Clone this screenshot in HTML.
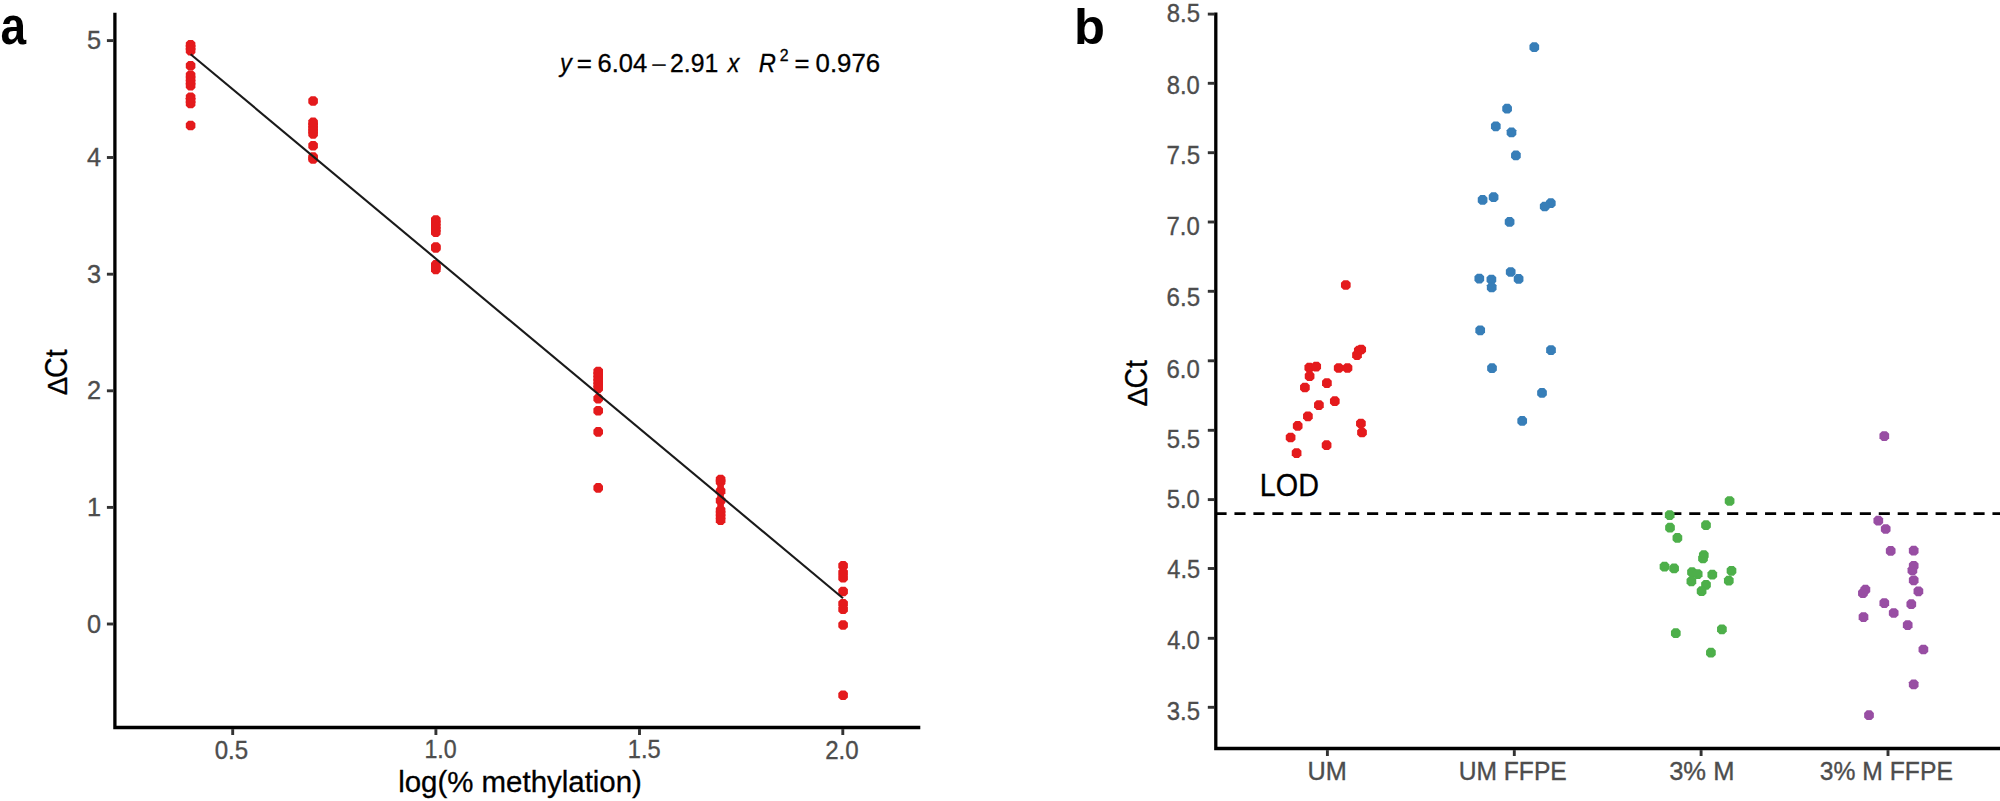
<!DOCTYPE html>
<html lang="en"><head><meta charset="utf-8"><title>Figure: ΔCt calibration and LOD</title>
<style>
html,body{margin:0;padding:0;background:#fff;}
body{width:2000px;height:801px;overflow:hidden;}
svg{display:block;}
text{font-family:"Liberation Sans",Arial,Helvetica,sans-serif;}
.tk{fill:#4D4D4D;stroke:#4D4D4D;stroke-width:0.35px;}
.ti{fill:#000;stroke:#000;stroke-width:0.3px;}
.eq{fill:#000;stroke:#000;stroke-width:0.3px;}
.pl{font-weight:bold;fill:#000;}
.mn{fill:#222;}
</style></head>
<body>
<svg width="2000" height="801" viewBox="0 0 2000 801">
<rect width="2000" height="801" fill="#fff"/>
<g id="panel-a">
<g fill="#E41A1C">
<path d="M188.39 39.90h4.42l2.59 2.59v4.42l-2.59 2.59h-4.42l-2.59 -2.59v-4.42z"/>
<path d="M188.39 42.80h4.42l2.59 2.59v4.42l-2.59 2.59h-4.42l-2.59 -2.59v-4.42z"/>
<path d="M188.39 45.80h4.42l2.59 2.59v4.42l-2.59 2.59h-4.42l-2.59 -2.59v-4.42z"/>
<path d="M188.39 60.90h4.42l2.59 2.59v4.42l-2.59 2.59h-4.42l-2.59 -2.59v-4.42z"/>
<path d="M188.39 70.50h4.42l2.59 2.59v4.42l-2.59 2.59h-4.42l-2.59 -2.59v-4.42z"/>
<path d="M188.39 73.90h4.42l2.59 2.59v4.42l-2.59 2.59h-4.42l-2.59 -2.59v-4.42z"/>
<path d="M188.39 77.40h4.42l2.59 2.59v4.42l-2.59 2.59h-4.42l-2.59 -2.59v-4.42z"/>
<path d="M188.39 80.80h4.42l2.59 2.59v4.42l-2.59 2.59h-4.42l-2.59 -2.59v-4.42z"/>
<path d="M188.39 92.50h4.42l2.59 2.59v4.42l-2.59 2.59h-4.42l-2.59 -2.59v-4.42z"/>
<path d="M188.39 95.60h4.42l2.59 2.59v4.42l-2.59 2.59h-4.42l-2.59 -2.59v-4.42z"/>
<path d="M188.39 98.70h4.42l2.59 2.59v4.42l-2.59 2.59h-4.42l-2.59 -2.59v-4.42z"/>
<path d="M188.39 120.70h4.42l2.59 2.59v4.42l-2.59 2.59h-4.42l-2.59 -2.59v-4.42z"/>
<path d="M310.89 96.20h4.42l2.59 2.59v4.42l-2.59 2.59h-4.42l-2.59 -2.59v-4.42z"/>
<path d="M310.89 117.60h4.42l2.59 2.59v4.42l-2.59 2.59h-4.42l-2.59 -2.59v-4.42z"/>
<path d="M310.89 120.50h4.42l2.59 2.59v4.42l-2.59 2.59h-4.42l-2.59 -2.59v-4.42z"/>
<path d="M310.89 123.40h4.42l2.59 2.59v4.42l-2.59 2.59h-4.42l-2.59 -2.59v-4.42z"/>
<path d="M310.89 126.20h4.42l2.59 2.59v4.42l-2.59 2.59h-4.42l-2.59 -2.59v-4.42z"/>
<path d="M310.89 129.10h4.42l2.59 2.59v4.42l-2.59 2.59h-4.42l-2.59 -2.59v-4.42z"/>
<path d="M310.89 140.90h4.42l2.59 2.59v4.42l-2.59 2.59h-4.42l-2.59 -2.59v-4.42z"/>
<path d="M310.89 152.30h4.42l2.59 2.59v4.42l-2.59 2.59h-4.42l-2.59 -2.59v-4.42z"/>
<path d="M310.89 154.20h4.42l2.59 2.59v4.42l-2.59 2.59h-4.42l-2.59 -2.59v-4.42z"/>
<path d="M433.59 215.20h4.42l2.59 2.59v4.42l-2.59 2.59h-4.42l-2.59 -2.59v-4.42z"/>
<path d="M433.59 218.20h4.42l2.59 2.59v4.42l-2.59 2.59h-4.42l-2.59 -2.59v-4.42z"/>
<path d="M433.59 221.40h4.42l2.59 2.59v4.42l-2.59 2.59h-4.42l-2.59 -2.59v-4.42z"/>
<path d="M433.59 224.50h4.42l2.59 2.59v4.42l-2.59 2.59h-4.42l-2.59 -2.59v-4.42z"/>
<path d="M433.59 227.50h4.42l2.59 2.59v4.42l-2.59 2.59h-4.42l-2.59 -2.59v-4.42z"/>
<path d="M433.59 242.20h4.42l2.59 2.59v4.42l-2.59 2.59h-4.42l-2.59 -2.59v-4.42z"/>
<path d="M433.59 243.20h4.42l2.59 2.59v4.42l-2.59 2.59h-4.42l-2.59 -2.59v-4.42z"/>
<path d="M433.59 260.10h4.42l2.59 2.59v4.42l-2.59 2.59h-4.42l-2.59 -2.59v-4.42z"/>
<path d="M433.59 262.40h4.42l2.59 2.59v4.42l-2.59 2.59h-4.42l-2.59 -2.59v-4.42z"/>
<path d="M433.59 264.60h4.42l2.59 2.59v4.42l-2.59 2.59h-4.42l-2.59 -2.59v-4.42z"/>
<path d="M595.99 366.70h4.42l2.59 2.59v4.42l-2.59 2.59h-4.42l-2.59 -2.59v-4.42z"/>
<path d="M595.99 370.00h4.42l2.59 2.59v4.42l-2.59 2.59h-4.42l-2.59 -2.59v-4.42z"/>
<path d="M595.99 373.40h4.42l2.59 2.59v4.42l-2.59 2.59h-4.42l-2.59 -2.59v-4.42z"/>
<path d="M595.99 376.70h4.42l2.59 2.59v4.42l-2.59 2.59h-4.42l-2.59 -2.59v-4.42z"/>
<path d="M595.99 380.10h4.42l2.59 2.59v4.42l-2.59 2.59h-4.42l-2.59 -2.59v-4.42z"/>
<path d="M595.99 383.40h4.42l2.59 2.59v4.42l-2.59 2.59h-4.42l-2.59 -2.59v-4.42z"/>
<path d="M595.99 393.80h4.42l2.59 2.59v4.42l-2.59 2.59h-4.42l-2.59 -2.59v-4.42z"/>
<path d="M595.99 405.90h4.42l2.59 2.59v4.42l-2.59 2.59h-4.42l-2.59 -2.59v-4.42z"/>
<path d="M595.99 427.10h4.42l2.59 2.59v4.42l-2.59 2.59h-4.42l-2.59 -2.59v-4.42z"/>
<path d="M595.99 483.10h4.42l2.59 2.59v4.42l-2.59 2.59h-4.42l-2.59 -2.59v-4.42z"/>
<path d="M718.39 474.70h4.42l2.59 2.59v4.42l-2.59 2.59h-4.42l-2.59 -2.59v-4.42z"/>
<path d="M718.39 477.00h4.42l2.59 2.59v4.42l-2.59 2.59h-4.42l-2.59 -2.59v-4.42z"/>
<path d="M718.39 486.30h4.42l2.59 2.59v4.42l-2.59 2.59h-4.42l-2.59 -2.59v-4.42z"/>
<path d="M718.39 495.80h4.42l2.59 2.59v4.42l-2.59 2.59h-4.42l-2.59 -2.59v-4.42z"/>
<path d="M718.39 505.40h4.42l2.59 2.59v4.42l-2.59 2.59h-4.42l-2.59 -2.59v-4.42z"/>
<path d="M718.39 508.70h4.42l2.59 2.59v4.42l-2.59 2.59h-4.42l-2.59 -2.59v-4.42z"/>
<path d="M718.39 512.00h4.42l2.59 2.59v4.42l-2.59 2.59h-4.42l-2.59 -2.59v-4.42z"/>
<path d="M718.39 515.30h4.42l2.59 2.59v4.42l-2.59 2.59h-4.42l-2.59 -2.59v-4.42z"/>
<path d="M840.89 560.90h4.42l2.59 2.59v4.42l-2.59 2.59h-4.42l-2.59 -2.59v-4.42z"/>
<path d="M840.89 567.90h4.42l2.59 2.59v4.42l-2.59 2.59h-4.42l-2.59 -2.59v-4.42z"/>
<path d="M840.89 572.90h4.42l2.59 2.59v4.42l-2.59 2.59h-4.42l-2.59 -2.59v-4.42z"/>
<path d="M840.89 586.70h4.42l2.59 2.59v4.42l-2.59 2.59h-4.42l-2.59 -2.59v-4.42z"/>
<path d="M840.89 599.00h4.42l2.59 2.59v4.42l-2.59 2.59h-4.42l-2.59 -2.59v-4.42z"/>
<path d="M840.89 604.40h4.42l2.59 2.59v4.42l-2.59 2.59h-4.42l-2.59 -2.59v-4.42z"/>
<path d="M840.89 620.20h4.42l2.59 2.59v4.42l-2.59 2.59h-4.42l-2.59 -2.59v-4.42z"/>
<path d="M840.89 690.40h4.42l2.59 2.59v4.42l-2.59 2.59h-4.42l-2.59 -2.59v-4.42z"/>
<circle cx="720.6" cy="486.4" r="3.3"/>
<circle cx="720.6" cy="495.9" r="3.3"/>
<circle cx="720.6" cy="505.4" r="3.3"/>
</g>
<line x1="190.6" y1="54.2" x2="843" y2="598.2" stroke="#1a1a1a" stroke-width="2.1"/>
<path d="M114.9 12.8V727.5H920.3" fill="none" stroke="#000" stroke-width="3.3" stroke-linejoin="miter"/>
<line x1="106.9" x2="113.30000000000001" y1="40.6" y2="40.6" stroke="#333333" stroke-width="2.9"/>
<text x="101.2" y="49.2" text-anchor="end" font-size="25.3" class="tk">5</text>
<line x1="106.9" x2="113.30000000000001" y1="157.5" y2="157.5" stroke="#333333" stroke-width="2.9"/>
<text x="101.2" y="166.1" text-anchor="end" font-size="25.3" class="tk">4</text>
<line x1="106.9" x2="113.30000000000001" y1="274.2" y2="274.2" stroke="#333333" stroke-width="2.9"/>
<text x="101.2" y="282.8" text-anchor="end" font-size="25.3" class="tk">3</text>
<line x1="106.9" x2="113.30000000000001" y1="390.8" y2="390.8" stroke="#333333" stroke-width="2.9"/>
<text x="101.2" y="399.4" text-anchor="end" font-size="25.3" class="tk">2</text>
<line x1="106.9" x2="113.30000000000001" y1="507.4" y2="507.4" stroke="#333333" stroke-width="2.9"/>
<text x="101.2" y="516.0" text-anchor="end" font-size="25.3" class="tk">1</text>
<line x1="106.9" x2="113.30000000000001" y1="624.0" y2="624.0" stroke="#333333" stroke-width="2.9"/>
<text x="101.2" y="632.6" text-anchor="end" font-size="25.3" class="tk">0</text>
<line x1="232.7" x2="232.7" y1="729.1" y2="735" stroke="#333333" stroke-width="2.9"/>
<line x1="435.9" x2="435.9" y1="729.1" y2="735" stroke="#333333" stroke-width="2.9"/>
<line x1="639.5" x2="639.5" y1="729.1" y2="735" stroke="#333333" stroke-width="2.9"/>
<line x1="842.8" x2="842.8" y1="729.1" y2="735" stroke="#333333" stroke-width="2.9"/>
</g>
<g id="panel-b">
<line x1="1215.8" x2="2000" y1="513.6" y2="513.6" stroke="#000" stroke-width="2.8" stroke-dasharray="11.1 7.85" stroke-dashoffset="0.3"/>
<g fill="#E41A1C">
<path d="M1343.57 280.15h4.46l2.62 2.62v4.46l-2.62 2.62h-4.46l-2.62 -2.62v-4.46z"/>
<path d="M1358.97 344.65h4.46l2.62 2.62v4.46l-2.62 2.62h-4.46l-2.62 -2.62v-4.46z"/>
<path d="M1356.57 345.75h4.46l2.62 2.62v4.46l-2.62 2.62h-4.46l-2.62 -2.62v-4.46z"/>
<path d="M1354.77 350.25h4.46l2.62 2.62v4.46l-2.62 2.62h-4.46l-2.62 -2.62v-4.46z"/>
<path d="M1307.07 362.85h4.46l2.62 2.62v4.46l-2.62 2.62h-4.46l-2.62 -2.62v-4.46z"/>
<path d="M1313.97 361.75h4.46l2.62 2.62v4.46l-2.62 2.62h-4.46l-2.62 -2.62v-4.46z"/>
<path d="M1336.47 363.15h4.46l2.62 2.62v4.46l-2.62 2.62h-4.46l-2.62 -2.62v-4.46z"/>
<path d="M1345.27 363.15h4.46l2.62 2.62v4.46l-2.62 2.62h-4.46l-2.62 -2.62v-4.46z"/>
<path d="M1307.37 371.35h4.46l2.62 2.62v4.46l-2.62 2.62h-4.46l-2.62 -2.62v-4.46z"/>
<path d="M1324.67 378.25h4.46l2.62 2.62v4.46l-2.62 2.62h-4.46l-2.62 -2.62v-4.46z"/>
<path d="M1302.67 382.65h4.46l2.62 2.62v4.46l-2.62 2.62h-4.46l-2.62 -2.62v-4.46z"/>
<path d="M1332.57 396.35h4.46l2.62 2.62v4.46l-2.62 2.62h-4.46l-2.62 -2.62v-4.46z"/>
<path d="M1316.67 400.25h4.46l2.62 2.62v4.46l-2.62 2.62h-4.46l-2.62 -2.62v-4.46z"/>
<path d="M1305.67 411.45h4.46l2.62 2.62v4.46l-2.62 2.62h-4.46l-2.62 -2.62v-4.46z"/>
<path d="M1295.47 421.05h4.46l2.62 2.62v4.46l-2.62 2.62h-4.46l-2.62 -2.62v-4.46z"/>
<path d="M1288.37 432.65h4.46l2.62 2.62v4.46l-2.62 2.62h-4.46l-2.62 -2.62v-4.46z"/>
<path d="M1358.67 418.65h4.46l2.62 2.62v4.46l-2.62 2.62h-4.46l-2.62 -2.62v-4.46z"/>
<path d="M1359.77 427.65h4.46l2.62 2.62v4.46l-2.62 2.62h-4.46l-2.62 -2.62v-4.46z"/>
<path d="M1324.37 440.35h4.46l2.62 2.62v4.46l-2.62 2.62h-4.46l-2.62 -2.62v-4.46z"/>
<path d="M1294.37 448.25h4.46l2.62 2.62v4.46l-2.62 2.62h-4.46l-2.62 -2.62v-4.46z"/>
</g>
<g fill="#377EB8">
<path d="M1532.07 42.35h4.46l2.62 2.62v4.46l-2.62 2.62h-4.46l-2.62 -2.62v-4.46z"/>
<path d="M1504.87 103.85h4.46l2.62 2.62v4.46l-2.62 2.62h-4.46l-2.62 -2.62v-4.46z"/>
<path d="M1493.57 121.45h4.46l2.62 2.62v4.46l-2.62 2.62h-4.46l-2.62 -2.62v-4.46z"/>
<path d="M1509.27 127.55h4.46l2.62 2.62v4.46l-2.62 2.62h-4.46l-2.62 -2.62v-4.46z"/>
<path d="M1513.67 150.55h4.46l2.62 2.62v4.46l-2.62 2.62h-4.46l-2.62 -2.62v-4.46z"/>
<path d="M1480.37 195.05h4.46l2.62 2.62v4.46l-2.62 2.62h-4.46l-2.62 -2.62v-4.46z"/>
<path d="M1491.37 192.35h4.46l2.62 2.62v4.46l-2.62 2.62h-4.46l-2.62 -2.62v-4.46z"/>
<path d="M1548.57 198.35h4.46l2.62 2.62v4.46l-2.62 2.62h-4.46l-2.62 -2.62v-4.46z"/>
<path d="M1542.47 201.65h4.46l2.62 2.62v4.46l-2.62 2.62h-4.46l-2.62 -2.62v-4.46z"/>
<path d="M1507.37 217.05h4.46l2.62 2.62v4.46l-2.62 2.62h-4.46l-2.62 -2.62v-4.46z"/>
<path d="M1508.47 267.15h4.46l2.62 2.62v4.46l-2.62 2.62h-4.46l-2.62 -2.62v-4.46z"/>
<path d="M1516.37 274.05h4.46l2.62 2.62v4.46l-2.62 2.62h-4.46l-2.62 -2.62v-4.46z"/>
<path d="M1477.07 273.75h4.46l2.62 2.62v4.46l-2.62 2.62h-4.46l-2.62 -2.62v-4.46z"/>
<path d="M1489.17 274.65h4.46l2.62 2.62v4.46l-2.62 2.62h-4.46l-2.62 -2.62v-4.46z"/>
<path d="M1489.47 282.55h4.46l2.62 2.62v4.46l-2.62 2.62h-4.46l-2.62 -2.62v-4.46z"/>
<path d="M1477.97 325.45h4.46l2.62 2.62v4.46l-2.62 2.62h-4.46l-2.62 -2.62v-4.46z"/>
<path d="M1548.77 345.25h4.46l2.62 2.62v4.46l-2.62 2.62h-4.46l-2.62 -2.62v-4.46z"/>
<path d="M1489.77 363.35h4.46l2.62 2.62v4.46l-2.62 2.62h-4.46l-2.62 -2.62v-4.46z"/>
<path d="M1539.77 388.05h4.46l2.62 2.62v4.46l-2.62 2.62h-4.46l-2.62 -2.62v-4.46z"/>
<path d="M1519.97 416.05h4.46l2.62 2.62v4.46l-2.62 2.62h-4.46l-2.62 -2.62v-4.46z"/>
</g>
<g fill="#4DAF4A">
<path d="M1727.37 496.15h4.46l2.62 2.62v4.46l-2.62 2.62h-4.46l-2.62 -2.62v-4.46z"/>
<path d="M1667.47 510.25h4.46l2.62 2.62v4.46l-2.62 2.62h-4.46l-2.62 -2.62v-4.46z"/>
<path d="M1703.77 520.35h4.46l2.62 2.62v4.46l-2.62 2.62h-4.46l-2.62 -2.62v-4.46z"/>
<path d="M1667.77 522.85h4.46l2.62 2.62v4.46l-2.62 2.62h-4.46l-2.62 -2.62v-4.46z"/>
<path d="M1675.17 533.05h4.46l2.62 2.62v4.46l-2.62 2.62h-4.46l-2.62 -2.62v-4.46z"/>
<path d="M1701.57 550.35h4.46l2.62 2.62v4.46l-2.62 2.62h-4.46l-2.62 -2.62v-4.46z"/>
<path d="M1700.77 553.65h4.46l2.62 2.62v4.46l-2.62 2.62h-4.46l-2.62 -2.62v-4.46z"/>
<path d="M1662.27 561.85h4.46l2.62 2.62v4.46l-2.62 2.62h-4.46l-2.62 -2.62v-4.46z"/>
<path d="M1671.87 563.55h4.46l2.62 2.62v4.46l-2.62 2.62h-4.46l-2.62 -2.62v-4.46z"/>
<path d="M1689.77 567.35h4.46l2.62 2.62v4.46l-2.62 2.62h-4.46l-2.62 -2.62v-4.46z"/>
<path d="M1695.47 569.25h4.46l2.62 2.62v4.46l-2.62 2.62h-4.46l-2.62 -2.62v-4.46z"/>
<path d="M1710.07 569.85h4.46l2.62 2.62v4.46l-2.62 2.62h-4.46l-2.62 -2.62v-4.46z"/>
<path d="M1729.27 565.95h4.46l2.62 2.62v4.46l-2.62 2.62h-4.46l-2.62 -2.62v-4.46z"/>
<path d="M1726.57 575.85h4.46l2.62 2.62v4.46l-2.62 2.62h-4.46l-2.62 -2.62v-4.46z"/>
<path d="M1689.17 576.45h4.46l2.62 2.62v4.46l-2.62 2.62h-4.46l-2.62 -2.62v-4.46z"/>
<path d="M1703.77 579.95h4.46l2.62 2.62v4.46l-2.62 2.62h-4.46l-2.62 -2.62v-4.46z"/>
<path d="M1699.37 586.35h4.46l2.62 2.62v4.46l-2.62 2.62h-4.46l-2.62 -2.62v-4.46z"/>
<path d="M1673.57 628.35h4.46l2.62 2.62v4.46l-2.62 2.62h-4.46l-2.62 -2.62v-4.46z"/>
<path d="M1719.67 624.45h4.46l2.62 2.62v4.46l-2.62 2.62h-4.46l-2.62 -2.62v-4.46z"/>
<path d="M1708.67 647.85h4.46l2.62 2.62v4.46l-2.62 2.62h-4.46l-2.62 -2.62v-4.46z"/>
</g>
<g fill="#984EA3">
<path d="M1882.07 431.25h4.46l2.62 2.62v4.46l-2.62 2.62h-4.46l-2.62 -2.62v-4.46z"/>
<path d="M1876.07 515.85h4.46l2.62 2.62v4.46l-2.62 2.62h-4.46l-2.62 -2.62v-4.46z"/>
<path d="M1883.47 524.15h4.46l2.62 2.62v4.46l-2.62 2.62h-4.46l-2.62 -2.62v-4.46z"/>
<path d="M1888.47 546.05h4.46l2.62 2.62v4.46l-2.62 2.62h-4.46l-2.62 -2.62v-4.46z"/>
<path d="M1911.47 545.85h4.46l2.62 2.62v4.46l-2.62 2.62h-4.46l-2.62 -2.62v-4.46z"/>
<path d="M1911.47 560.95h4.46l2.62 2.62v4.46l-2.62 2.62h-4.46l-2.62 -2.62v-4.46z"/>
<path d="M1910.17 565.55h4.46l2.62 2.62v4.46l-2.62 2.62h-4.46l-2.62 -2.62v-4.46z"/>
<path d="M1911.47 575.45h4.46l2.62 2.62v4.46l-2.62 2.62h-4.46l-2.62 -2.62v-4.46z"/>
<path d="M1916.17 586.45h4.46l2.62 2.62v4.46l-2.62 2.62h-4.46l-2.62 -2.62v-4.46z"/>
<path d="M1863.17 584.85h4.46l2.62 2.62v4.46l-2.62 2.62h-4.46l-2.62 -2.62v-4.46z"/>
<path d="M1860.67 588.35h4.46l2.62 2.62v4.46l-2.62 2.62h-4.46l-2.62 -2.62v-4.46z"/>
<path d="M1882.07 598.25h4.46l2.62 2.62v4.46l-2.62 2.62h-4.46l-2.62 -2.62v-4.46z"/>
<path d="M1909.07 599.35h4.46l2.62 2.62v4.46l-2.62 2.62h-4.46l-2.62 -2.62v-4.46z"/>
<path d="M1891.47 608.15h4.46l2.62 2.62v4.46l-2.62 2.62h-4.46l-2.62 -2.62v-4.46z"/>
<path d="M1861.27 612.25h4.46l2.62 2.62v4.46l-2.62 2.62h-4.46l-2.62 -2.62v-4.46z"/>
<path d="M1905.47 620.25h4.46l2.62 2.62v4.46l-2.62 2.62h-4.46l-2.62 -2.62v-4.46z"/>
<path d="M1921.17 644.65h4.46l2.62 2.62v4.46l-2.62 2.62h-4.46l-2.62 -2.62v-4.46z"/>
<path d="M1911.47 679.55h4.46l2.62 2.62v4.46l-2.62 2.62h-4.46l-2.62 -2.62v-4.46z"/>
<path d="M1866.77 710.35h4.46l2.62 2.62v4.46l-2.62 2.62h-4.46l-2.62 -2.62v-4.46z"/>
</g>
<path d="M1215.8 12.6V748.5H2000" fill="none" stroke="#000" stroke-width="3.3"/>
<line x1="1207.8" x2="1214.2" y1="14.1" y2="14.1" stroke="#333333" stroke-width="2.9"/>
<line x1="1207.8" x2="1214.2" y1="83.3" y2="83.3" stroke="#333333" stroke-width="2.9"/>
<line x1="1207.8" x2="1214.2" y1="152.7" y2="152.7" stroke="#333333" stroke-width="2.9"/>
<line x1="1207.8" x2="1214.2" y1="222" y2="222" stroke="#333333" stroke-width="2.9"/>
<line x1="1207.8" x2="1214.2" y1="291.3" y2="291.3" stroke="#333333" stroke-width="2.9"/>
<line x1="1207.8" x2="1214.2" y1="360.8" y2="360.8" stroke="#333333" stroke-width="2.9"/>
<line x1="1207.8" x2="1214.2" y1="430.3" y2="430.3" stroke="#333333" stroke-width="2.9"/>
<line x1="1207.8" x2="1214.2" y1="499.6" y2="499.6" stroke="#333333" stroke-width="2.9"/>
<line x1="1207.8" x2="1214.2" y1="568.5" y2="568.5" stroke="#333333" stroke-width="2.9"/>
<line x1="1207.8" x2="1214.2" y1="638.3" y2="638.3" stroke="#333333" stroke-width="2.9"/>
<line x1="1207.8" x2="1214.2" y1="707.3" y2="707.3" stroke="#333333" stroke-width="2.9"/>
<line x1="1327.4" x2="1327.4" y1="750.1" y2="756.0" stroke="#333333" stroke-width="2.9"/>
<line x1="1514.3" x2="1514.3" y1="750.1" y2="756.0" stroke="#333333" stroke-width="2.9"/>
<line x1="1701.1" x2="1701.1" y1="750.1" y2="756.0" stroke="#333333" stroke-width="2.9"/>
<line x1="1888.0" x2="1888.0" y1="750.1" y2="756.0" stroke="#333333" stroke-width="2.9"/>
</g>
<g id="labels">
<text transform="translate(214.70 759.20) scale(0.9515 1)" font-size="25.3" class="tk">0.5</text>
<text transform="translate(424.41 758.00) scale(0.9178 1)" font-size="25.3" class="tk">1.0</text>
<text transform="translate(627.78 758.00) scale(0.9344 1)" font-size="25.3" class="tk">1.5</text>
<text transform="translate(825.16 759.00) scale(0.9515 1)" font-size="25.3" class="tk">2.0</text>
<text transform="translate(398.15 791.50) scale(1.0019 1)" font-size="29.4" class="ti">log(% methylation)</text>
<text transform="translate(67.30 395.34) rotate(-90) scale(0.8853 0.9)" font-size="31.0" class="ti">Δ</text>
<text transform="translate(67.30 377.93) rotate(-90) scale(0.9231 1)" font-size="31.0" class="ti">Ct</text>
<text transform="translate(559.95 72.20) scale(0.9311 1)" font-size="25.3" class="eq" font-style="italic">y</text>
<text transform="translate(576.76 72.20) scale(1.0286 1)" font-size="25.3" class="eq">=</text>
<text transform="translate(597.49 72.20) scale(1.0095 1)" font-size="25.3" class="eq">6.04</text>
<text transform="translate(652.35 72.20) scale(0.9571 1)" font-size="25.3" class="mn">–</text>
<text transform="translate(670.03 72.20) scale(0.9797 1)" font-size="25.3" class="eq">2.91</text>
<text transform="translate(727.67 72.20) scale(0.9193 1)" font-size="25.3" class="eq" font-style="italic">x</text>
<text transform="translate(758.75 72.20) scale(0.9373 1)" font-size="25.3" class="eq" font-style="italic">R</text>
<text transform="translate(779.83 61.30) scale(0.9600 1)" font-size="16.5" class="eq">2</text>
<text transform="translate(794.58 72.20) scale(1.0122 1)" font-size="25.3" class="eq">=</text>
<text transform="translate(815.53 72.20) scale(1.0204 1)" font-size="25.3" class="eq">0.976</text>
<text transform="translate(0.41 43.70) scale(0.8945 1)" font-size="51.5" class="pl">a</text>
<text transform="translate(1166.80 21.80) scale(0.9455 1)" font-size="25.3" class="tk">8.5</text>
<text transform="translate(1166.81 93.60) scale(0.9383 1)" font-size="25.3" class="tk">8.0</text>
<text transform="translate(1166.56 164.00) scale(0.9527 1)" font-size="25.3" class="tk">7.5</text>
<text transform="translate(1166.57 235.40) scale(0.9455 1)" font-size="25.3" class="tk">7.0</text>
<text transform="translate(1166.56 306.20) scale(0.9527 1)" font-size="25.3" class="tk">6.5</text>
<text transform="translate(1166.57 377.60) scale(0.9455 1)" font-size="25.3" class="tk">6.0</text>
<text transform="translate(1166.80 448.30) scale(0.9455 1)" font-size="25.3" class="tk">5.5</text>
<text transform="translate(1166.81 507.90) scale(0.9383 1)" font-size="25.3" class="tk">5.0</text>
<text transform="translate(1167.28 577.90) scale(0.9313 1)" font-size="25.3" class="tk">4.5</text>
<text transform="translate(1167.29 648.90) scale(0.9244 1)" font-size="25.3" class="tk">4.0</text>
<text transform="translate(1166.80 719.70) scale(0.9455 1)" font-size="25.3" class="tk">3.5</text>
<text transform="translate(1307.59 779.80) scale(0.9806 1)" font-size="25.8" class="tk">UM</text>
<text transform="translate(1458.64 779.80) scale(0.9555 1)" font-size="25.8" class="tk">UM FFPE</text>
<text transform="translate(1669.16 779.80) scale(0.9896 1)" font-size="25.8" class="tk">3% M</text>
<text transform="translate(1819.79 779.80) scale(0.9569 1)" font-size="25.8" class="tk">3% M FFPE</text>
<text transform="translate(1147.30 406.47) rotate(-90) scale(0.9173 0.9)" font-size="31.0" class="ti">Δ</text>
<text transform="translate(1147.30 388.53) rotate(-90) scale(0.9197 1)" font-size="31.0" class="ti">Ct</text>
<text transform="translate(1259.80 495.50) scale(0.9407 1)" font-size="30.6" class="ti">LOD</text>
<text transform="translate(1074.07 43.70) scale(1.0078 1)" font-size="50.3" class="pl">b</text>
</g>
</svg>
</body></html>
